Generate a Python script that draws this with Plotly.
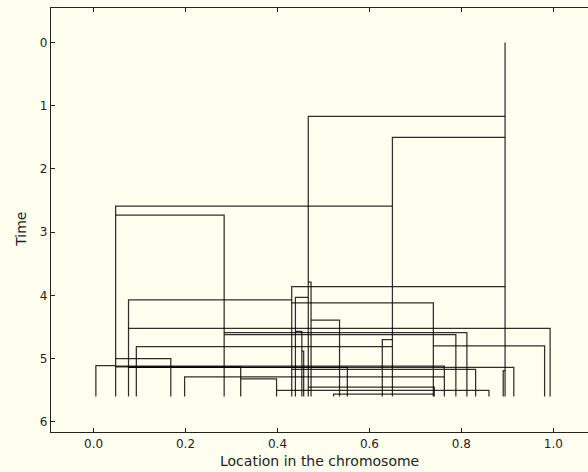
import plotly.graph_objects as go

# Leaf lineages: location, time at which the lineage merges, location it merges into
leaf_x = [0.467, 0.65, 0.048, 0.284, 0.431, 0.473, 0.439, 0.076, 0.739, 0.535,
          0.993, 0.453, 0.812, 0.788, 0.628, 0.093, 0.981, 0.457, 0.168, 0.005,
          0.763, 0.32, 0.914, 0.552, 0.831, 0.891, 0.198, 0.398, 0.741, 0.86, 0.522]
merge_t = [1.17, 1.50, 2.59, 2.73, 3.86, 3.79, 4.03, 4.07, 4.12, 4.39,
           4.52, 4.57, 4.59, 4.62, 4.70, 4.81, 4.80, 4.88, 5.00, 5.11,
           5.12, 5.13, 5.14, 5.14, 5.17, 5.19, 5.29, 5.32, 5.45, 5.50, 5.56]
parent_x = [0.895, 0.895, 0.65, 0.048, 0.895, 0.467, 0.467, 0.431, 0.431, 0.473,
            0.076, 0.439, 0.284, 0.284, 0.65, 0.65, 0.739, 0.453, 0.048, 0.048,
            0.048, 0.048, 0.076, 0.076, 0.431, 0.895, 0.763, 0.32, 0.467, 0.398, 0.739]
root_x = 0.895
root_t = 0.0
sample_t = 5.6

x_ticks = [0.0, 0.2, 0.4, 0.6, 0.8, 1.0]
x_ticktext = ["0.0", "0.2", "0.4", "0.6", "0.8", "1.0"]
y_ticks = [0, 1, 2, 3, 4, 5, 6]
y_ticktext = ["0", "1", "2", "3", "4", "5", "6"]

line_style = dict(color="rgba(0,0,0,0.82)", width=1.25)

fig = go.Figure()
fig.add_trace(go.Scatter(x=[root_x, root_x], y=[root_t, sample_t], mode="lines",
                         line=line_style, showlegend=False, hoverinfo="skip"))
for x, t, px in zip(leaf_x, merge_t, parent_x):
    fig.add_trace(go.Scatter(x=[x, x, px], y=[sample_t, t, t], mode="lines",
                             line=line_style, showlegend=False, hoverinfo="skip"))

bg = "#fffff0"
fig.update_layout(
    width=588, height=472,
    margin=dict(l=51, r=0, t=8, b=40),
    paper_bgcolor=bg, plot_bgcolor=bg,
    font=dict(family="DejaVu Sans", size=12, color="#222222"),
    xaxis=dict(range=[-0.0926, 1.0754], tickvals=x_ticks, ticktext=x_ticktext,
               showgrid=False, zeroline=False, showline=True, linecolor="#222222",
               linewidth=1.2, mirror="ticks", ticks="inside", ticklen=4,
               tickcolor="#222222", automargin=False),
    yaxis=dict(range=[6.16, -0.544], tickvals=y_ticks, ticktext=y_ticktext,
               showgrid=False, zeroline=False, showline=True, linecolor="#222222",
               linewidth=1.2, ticks="inside", ticklen=4, tickcolor="#222222",
               automargin=False),
    annotations=[
        dict(text="Location in the chromosome", xref="paper", yref="paper",
             x=0.5, y=-0.068, xanchor="center", yanchor="middle",
             showarrow=False, font=dict(size=14)),
        dict(text="Time", xref="paper", yref="paper", x=-0.056, y=0.479,
             xanchor="center", yanchor="middle", textangle=-90,
             showarrow=False, font=dict(size=14)),
    ],
)
fig.write_html(
    "out.html",
    config={"displayModeBar": False},
    post_script="document.body.style.margin='0';document.body.style.background='#fffff0';",
)
